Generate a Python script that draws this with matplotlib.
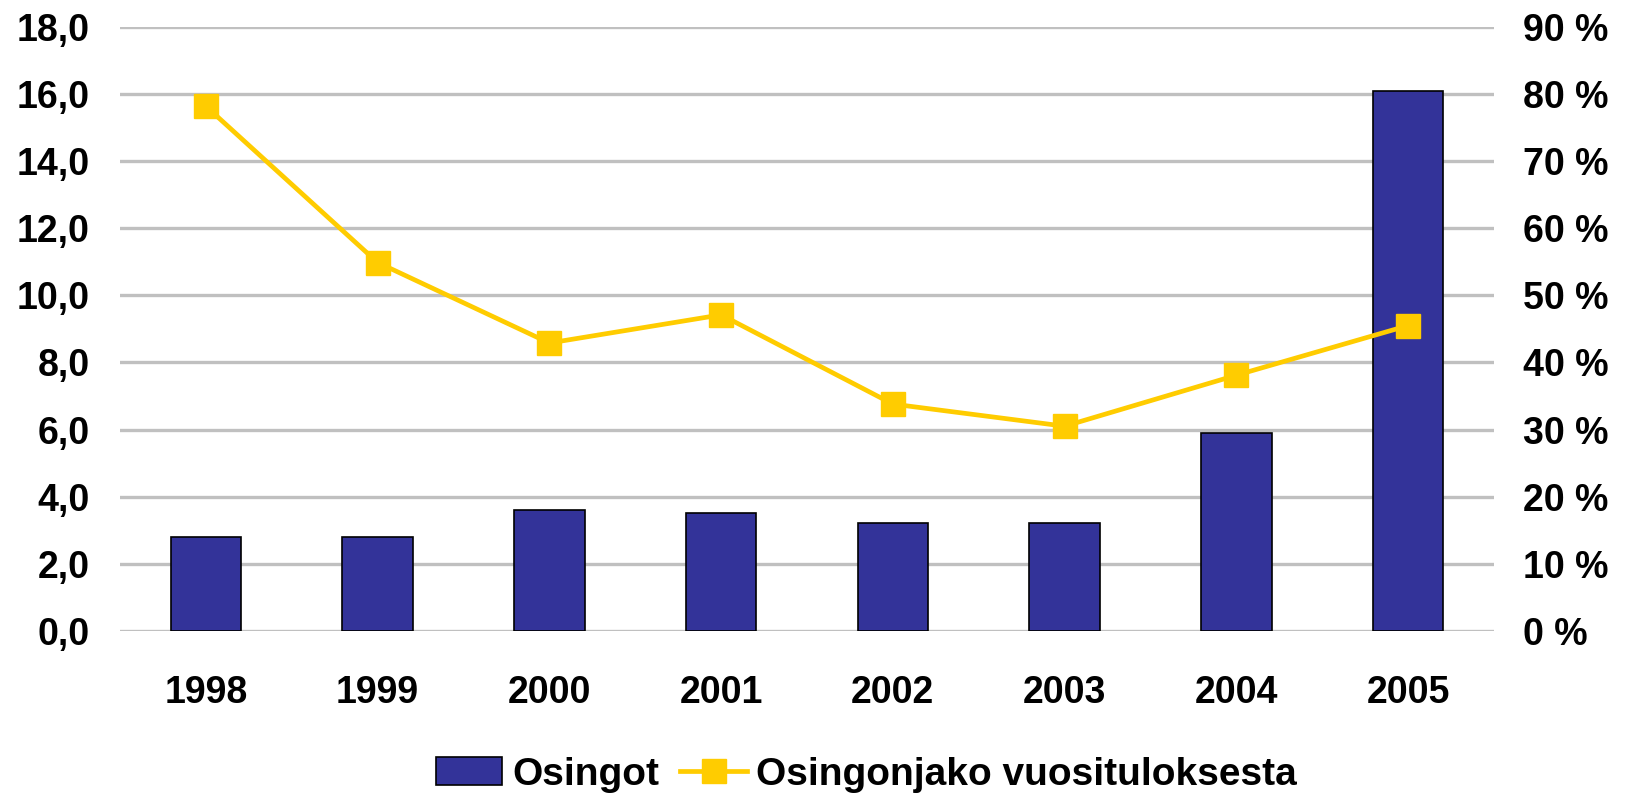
import matplotlib.pyplot as plt
import numpy as np

plt.rcParams['font.family'] = ['Liberation Sans', 'DejaVu Sans']
plt.rcParams['font.weight'] = 'bold'

years = ['1998', '1999', '2000', '2001', '2002', '2003', '2004', '2005']
osingot = [2.8, 2.8, 3.6, 3.5, 3.2, 3.2, 5.9, 16.1]
osingonjako = [78.2, 54.9, 42.9, 47.1, 33.8, 30.5, 38.1, 45.5]

bar_color = '#333399'
line_color = '#FFCC00'
grid_color = '#C0C0C0'
fs = 27

fig = plt.figure(figsize=(16.26, 7.97), dpi=100)
ax = fig.add_axes([0.0738, 0.2085, 0.845, 0.7576])
x = np.arange(len(years))

bars = ax.bar(x, osingot, width=0.41, color=bar_color, edgecolor='black',
              linewidth=1.2, label='Osingot', zorder=2)
ax.set_xlim(-0.5, len(years) - 0.5)
ax.set_ylim(0, 18)
ax.set_yticks(np.arange(0, 18.1, 2))
ax.set_yticklabels([f'{v:.1f}'.replace('.', ',') for v in np.arange(0, 18.1, 2)])
ax.set_xticks(x)
ax.set_xticklabels(years)
ax.yaxis.grid(True, color=grid_color, linewidth=2.4, zorder=0)
ax.set_axisbelow(True)
ax.tick_params(axis='y', length=0, pad=22, labelsize=fs)
ax.tick_params(axis='x', length=0, pad=32, labelsize=fs)
for s in ax.spines.values():
    s.set_visible(False)

ax2 = ax.twinx()
line, = ax2.plot(x, osingonjako, color=line_color, linewidth=3.4, marker='s',
                 markersize=17, label='Osingonjako vuosituloksesta', zorder=3)
ax2.set_ylim(0, 90)
ax2.set_yticks(np.arange(0, 91, 10))
ax2.set_yticklabels([f'{v} %' for v in range(0, 91, 10)])
ax2.tick_params(axis='y', length=0, pad=21, labelsize=fs)
for s in ax2.spines.values():
    s.set_visible(False)

for lbl in ax.get_xticklabels() + ax.get_yticklabels() + ax2.get_yticklabels():
    lbl.set_fontweight('bold')

fig.legend(handles=[bars, line], loc='center', bbox_to_anchor=(0.533, 0.028),
           ncol=2, frameon=False, prop={'size': 28, 'weight': 'bold'},
           handlelength=1.7, handleheight=0.75, handletextpad=0.25,
           columnspacing=0.55, borderpad=0, borderaxespad=0)

fig.savefig('out.png', dpi=100)
